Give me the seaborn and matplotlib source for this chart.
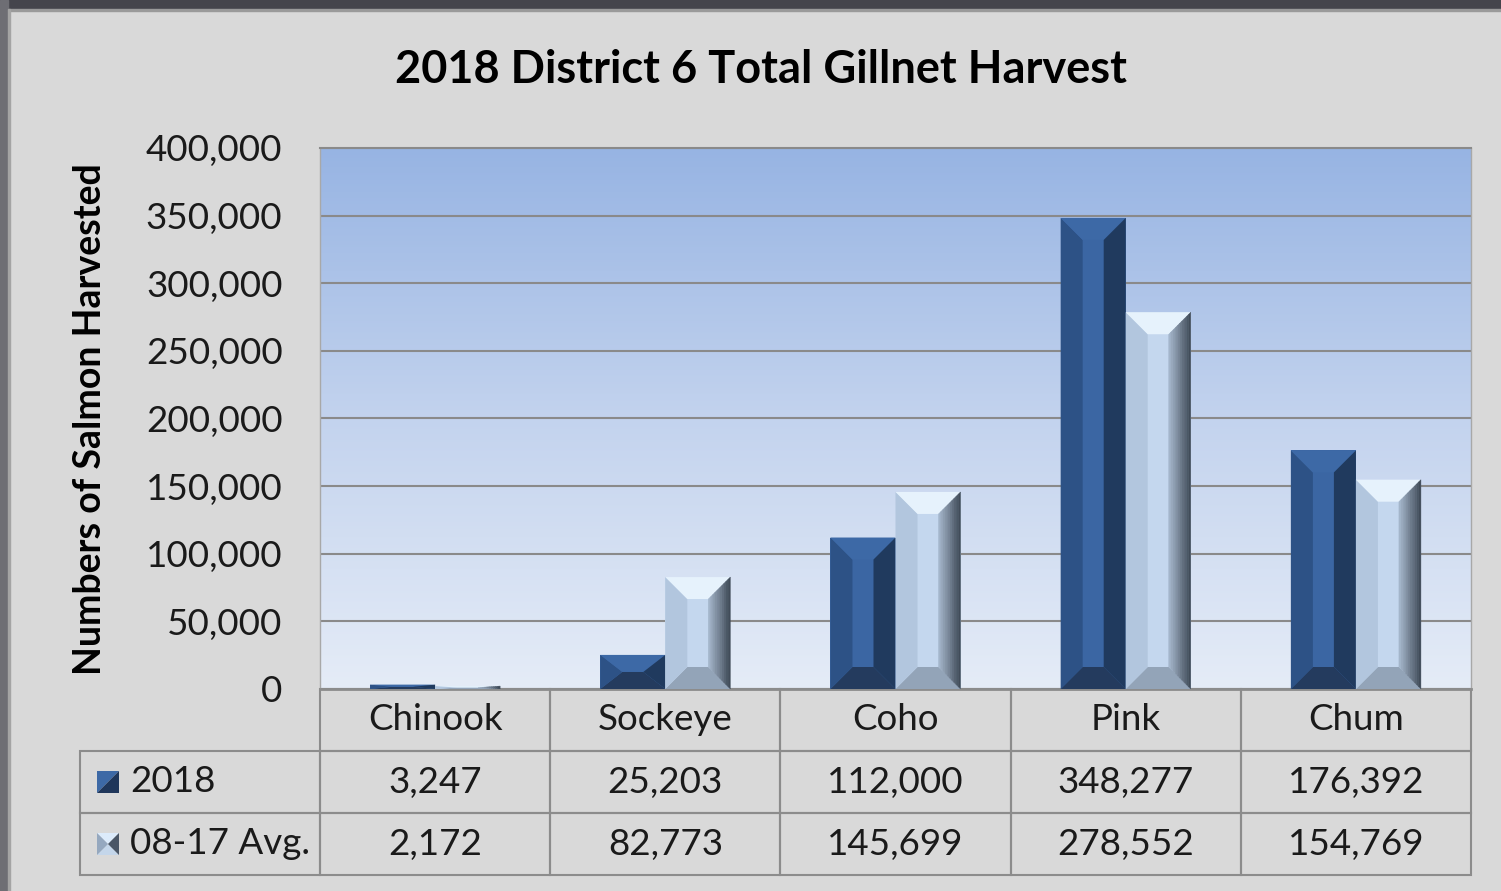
import numpy as np
import pandas as pd
import matplotlib
matplotlib.use("Agg")
import matplotlib.pyplot as plt
import seaborn as sns
from matplotlib.patches import Polygon, Rectangle
from matplotlib.colors import LinearSegmentedColormap, to_rgb
from matplotlib.table import Table

# ---------------- data ----------------
categories = ["Chinook", "Sockeye", "Coho", "Pink", "Chum"]
series_names = ["2018", "08-17 Avg."]
harvest_2018 = [3247, 25203, 112000, 348277, 176392]
harvest_avg = [2172, 82773, 145699, 278552, 154769]
y_ticks = [0, 50000, 100000, 150000, 200000, 250000, 300000, 350000, 400000]
title_text = "2018 District 6 Total Gillnet Harvest"
ylabel_text = "Numbers of Salmon Harvested"

# ---------------- style ----------------
sns.set_theme(style="white")
plt.rcParams["font.family"] = ["Lato", "DejaVu Sans"]

FW, FH = 1501, 891
BG = "#d9d9d9"
DARK = "#3b66a3"
LIGHT = "#c4d7ee"
GRID = "#8a8a8a"
TXT = "#1a1a1a"
FS = 26.5

fig = plt.figure(figsize=(FW / 100, FH / 100), dpi=100, facecolor=BG)

# frame bands
fig.add_artist(Rectangle((0, 1 - 9 / FH), 1, 9 / FH, transform=fig.transFigure,
                         color="#45454c", zorder=-5))
fig.add_artist(Rectangle((0, 1 - 11 / FH), 1, 2 / FH, transform=fig.transFigure,
                         color="#9a9a9a", zorder=-5))
fig.add_artist(Rectangle((0, 0), 8 / FW, 1, transform=fig.transFigure,
                         color="#6e6e74", zorder=-4))
fig.add_artist(Rectangle((8 / FW, 0), 2 / FW, 1 - 9 / FH, transform=fig.transFigure,
                         color="#a4a4a4", zorder=-4))

ax_l, ax_r, ax_t, ax_b = 320, 1471, 148, 689
ax = fig.add_axes([ax_l / FW, 1 - ax_b / FH, (ax_r - ax_l) / FW, (ax_b - ax_t) / FH])
ax.set_facecolor("none")

df = pd.DataFrame({
    "Species": categories * 2,
    "Series": [series_names[0]] * len(categories) + [series_names[1]] * len(categories),
    "Harvest": harvest_2018 + harvest_avg,
})

sns.barplot(data=df, x="Species", y="Harvest", hue="Series", order=categories,
            hue_order=series_names, palette=[DARK, LIGHT], saturation=1,
            width=0.565, errorbar=None, legend=False, linewidth=0, ax=ax, zorder=3)

ax.set_xlim(-0.5, len(categories) - 0.5)
ax.set_ylim(y_ticks[0], y_ticks[-1])

# gradient plot-area background
cmap_bg = LinearSegmentedColormap.from_list("bg", ["#e5ecf7", "#c3d3ee", "#97b4e3"])
ax.imshow(np.linspace(0, 1, 256).reshape(-1, 1), cmap=cmap_bg, aspect="auto",
          origin="lower", extent=(-0.5, len(categories) - 0.5, y_ticks[0], y_ticks[-1]),
          zorder=-2)
ax.set_xlim(-0.5, len(categories) - 0.5)
ax.set_ylim(y_ticks[0], y_ticks[-1])

ax.set_yticks(y_ticks)
ax.set_yticklabels([f"{t:,}" for t in y_ticks], fontsize=FS, color=TXT)
ax.yaxis.grid(True, color=GRID, lw=1.5)
ax.xaxis.grid(False)
ax.set_axisbelow(True)
ax.tick_params(axis="y", length=0, pad=27)
ax.tick_params(axis="x", length=0, labelbottom=False)
ax.set_xlabel("")
ax.set_ylabel("")
for s in ["left", "right"]:
    ax.spines[s].set_color("#a8a8a8")
    ax.spines[s].set_linewidth(1)
ax.spines["top"].set_color(GRID)
ax.spines["top"].set_linewidth(1.5)
ax.spines["bottom"].set_color("#8c8c8c")
ax.spines["bottom"].set_linewidth(2)

# ---------------- bevel decoration (derived from seaborn bar patches) ----------------
ux = (len(categories)) / (ax_r - ax_l)          # data units per pixel, x
uy = (y_ticks[-1] - y_ticks[0]) / (ax_b - ax_t)  # data units per pixel, y
BEV = 22


def mix(c1, c2, t):
    a, b = np.array(to_rgb(c1)), np.array(to_rgb(c2))
    return tuple(a + (b - a) * t)


def bevel(patch, cols, right_grad=None):
    x0 = patch.get_x()
    w = patch.get_width()
    h = patch.get_height()
    x1 = x0 + w
    if h <= 0:
        return
    bx = min(BEV * ux, w / 2)
    by = min(BEV * uy, h / 2)
    polys = {
        "bottom": [(x0, 0), (x1, 0), (x1 - bx, by), (x0 + bx, by)],
        "left": [(x0, 0), (x0, h), (x0 + bx, h - by), (x0 + bx, by)],
        "top": [(x0, h), (x1, h), (x1 - bx, h - by), (x0 + bx, h - by)],
    }
    for k, p in polys.items():
        ax.add_patch(Polygon(p, closed=True, facecolor=cols[k], edgecolor="none", zorder=4))
    if right_grad is None:
        ax.add_patch(Polygon([(x1, 0), (x1, h), (x1 - bx, h - by), (x1 - bx, by)],
                             closed=True, facecolor=cols["right"], edgecolor="none", zorder=4))
    else:
        n = 10
        for i in range(n):
            t0, t1 = i / n, (i + 1) / n
            xa, xb = x1 - bx + bx * t0, x1 - bx + bx * t1
            ya_lo, yb_lo = by * (1 - t0), by * (1 - t1)
            ya_hi, yb_hi = h - by * (1 - t0), h - by * (1 - t1)
            c = mix(right_grad[0], right_grad[1], (t0 + t1) / 2)
            ax.add_patch(Polygon([(xa, ya_lo), (xb, yb_lo), (xb, yb_hi), (xa, ya_hi)],
                                 closed=True, facecolor=c, edgecolor=c, lw=0.3, zorder=4))


dark_cols = {"top": "#3d69a6", "left": "#2d5286", "right": "#203a5e", "bottom": "#243b5e"}
light_cols = {"top": "#e6f2fc", "left": "#b2c6de", "right": "#8496aa", "bottom": "#93a4b8"}

for patch in ax.containers[0]:
    bevel(patch, dark_cols)
for patch in ax.containers[1]:
    bevel(patch, light_cols, right_grad=("#a9bbd0", "#3b4653"))

# ---------------- data table ----------------
tab_l, tab_top, tab_bot = 80, 689, 875
ax_w_px, ax_h_px = ax_r - ax_l, ax_b - ax_t
bbox = [(tab_l - ax_l) / ax_w_px, -(tab_bot - ax_b) / ax_h_px,
        (ax_r - tab_l) / ax_w_px, (tab_bot - tab_top) / ax_h_px]
tbl = Table(ax, bbox=bbox)
tot_w = ax_r - tab_l
lab_w = (ax_l - tab_l) / tot_w
col_w = (ax_r - ax_l) / len(categories) / tot_w
row_h = 1 / 3
EDGE = "#8c8c8c"

rows = [harvest_2018, harvest_avg]
for j, cat in enumerate(categories):
    c = tbl.add_cell(0, j + 1, width=col_w, height=row_h, text=cat, loc="center",
                     facecolor="none", edgecolor=EDGE)
for i, (name, vals) in enumerate(zip(series_names, rows)):
    c = tbl.add_cell(i + 1, 0, width=lab_w, height=row_h, text=name, loc="left",
                     facecolor="none", edgecolor=EDGE)
    c.PAD = 50 / (ax_l - tab_l)
    for j, v in enumerate(vals):
        tbl.add_cell(i + 1, j + 1, width=col_w, height=row_h, text=f"{v:,}", loc="center",
                     facecolor="none", edgecolor=EDGE)
tbl.auto_set_font_size(False)
tbl.set_fontsize(FS)
for cell in tbl.get_celld().values():
    cell.set_linewidth(1.5)
    cell.get_text().set_color(TXT)
    cell.get_text().set_fontsize(FS)
ax.add_table(tbl)

# ---------------- titles ----------------
fig.text(761 / FW, 1 - 70 / FH, title_text, ha="center", va="center",
         fontsize=32.5, fontweight="bold", color="#000000")
fig.text(90 / FW, 1 - 419 / FH, ylabel_text, ha="center", va="center",
         rotation=90, fontsize=27, fontweight="bold", color="#000000")

# ---------------- legend keys inside table row labels ----------------
fig.canvas.draw()
key_px = 22
for i in range(len(series_names)):
    cell = tbl.get_celld()[(i + 1, 0)]
    cx0, cy0 = cell.get_x(), cell.get_y()
    ch = cell.get_height()
    p0 = ax.transAxes.transform((cx0, cy0 + ch / 2))
    px, py = p0[0] + 17, p0[1]
    X0, X1 = px, px + key_px
    Y0, Y1 = py - key_px / 2, py + key_px / 2
    XM, YM = (X0 + X1) / 2, (Y0 + Y1) / 2
    inv = fig.transFigure.inverted()
    if i == 0:
        tris = [([(X0, Y1), (X1, Y1), (X0, Y0)], "#3d69a6"),
                ([(X1, Y1), (X1, Y0), (X0, Y0)], "#1f365a")]
    else:
        tris = [([(X0, Y1), (X1, Y1), (XM, YM)], "#dcebfb"),
                ([(X0, Y0), (X1, Y0), (XM, YM)], "#c4d6ea"),
                ([(X0, Y0), (X0, Y1), (XM, YM)], "#95a8bf"),
                ([(X1, Y0), (X1, Y1), (XM, YM)], "#4a5666")]
    for pts, col in tris:
        fpts = inv.transform(np.array(pts))
        fig.add_artist(Polygon(fpts, closed=True, transform=fig.transFigure,
                               facecolor=col, edgecolor="none", zorder=10))

fig.savefig("out.png", dpi=100, facecolor=fig.get_facecolor())
